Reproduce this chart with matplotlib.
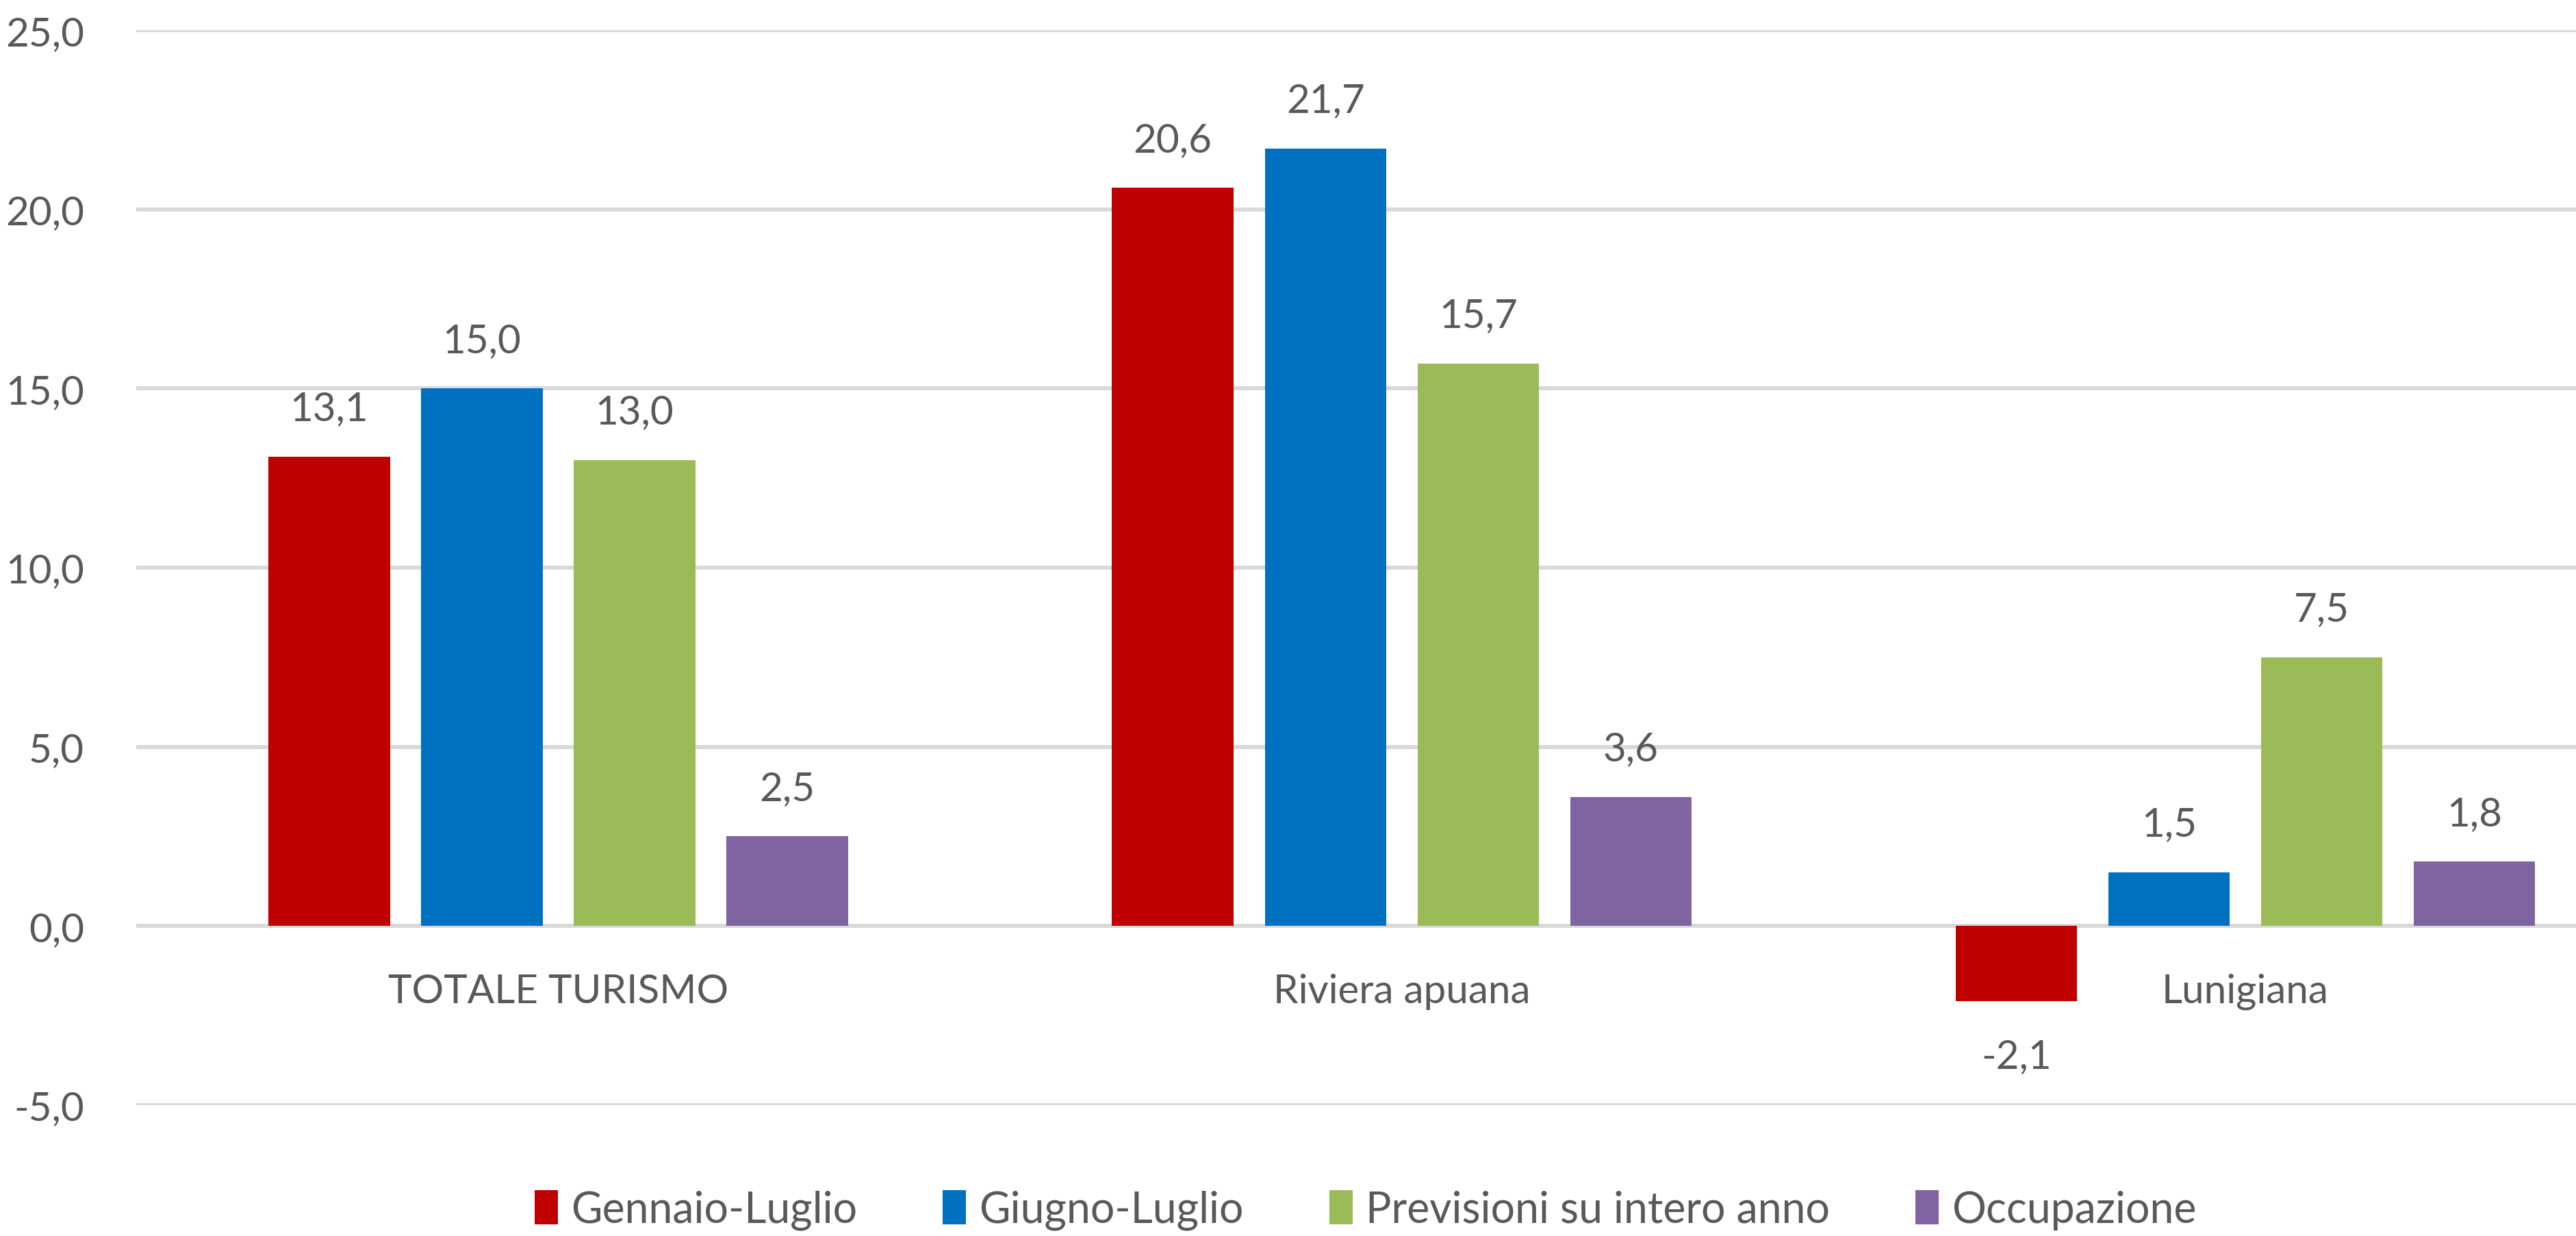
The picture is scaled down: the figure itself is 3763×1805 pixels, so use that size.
import matplotlib
matplotlib.use("Agg")
import matplotlib.pyplot as plt
import numpy as np

plt.rcParams['font.family'] = ['Lato', 'DejaVu Sans']

categories = ['TOTALE TURISMO', 'Riviera apuana', 'Lunigiana']
series_names = ['Gennaio-Luglio', 'Giugno-Luglio', 'Previsioni su intero anno', 'Occupazione']
gennaio_luglio = [13.1, 20.6, -2.1]
giugno_luglio = [15.0, 21.7, 1.5]
previsioni = [13.0, 15.7, 7.5]
occupazione = [2.5, 3.6, 1.8]
yticks = [-5, 0, 5, 10, 15, 20, 25]

series = [gennaio_luglio, giugno_luglio, previsioni, occupazione]
colors = ['#C00000', '#0070C0', '#9BBB59', '#8064A2']
text_col = '#595959'

fig = plt.figure(figsize=(37.63, 18.06), dpi=100)
ax = fig.add_axes([0.053, 0.1058, 0.947, 0.975 - 0.1058])

x = np.arange(len(categories))
width = 0.144
pitch = 0.181
for i, (vals, col, name) in enumerate(zip(series, colors, series_names)):
    pos = x + (i - 1.5) * pitch
    bars = ax.bar(pos, vals, width, color=col, label=name, zorder=3)
    for b, v in zip(bars, vals):
        lab = f"{v:.1f}".replace('.', ',')
        off = 70 if v >= 0 else -80
        ax.annotate(lab, (b.get_x() + b.get_width() / 2, v), xytext=(0, off),
                    textcoords='offset pixels', ha='center', va='center',
                    fontsize=42, color=text_col)

for xi, c in zip(x, categories):
    ax.annotate(c, (xi, 0), xytext=(0, -95), textcoords='offset pixels',
                ha='center', va='center', fontsize=42, color=text_col)

ax.set_xlim(-0.5, 2.392)
ax.set_ylim(-5, 25)
ax.set_yticks(yticks)
ax.set_yticklabels([f"{t:.1f}".replace('.', ',') for t in yticks], fontsize=42, color=text_col)
ax.tick_params(axis='y', length=0, pad=55)
ax.set_xticks([])
ax.grid(axis='y', color='#D9D9D9', linewidth=4.3, zorder=0)
for s in ax.spines.values():
    s.set_visible(False)

fig.legend(loc='center', bbox_to_anchor=(0.530, 0.021), ncol=4, frameon=False,
           fontsize=45, labelcolor=text_col, handlelength=0.55, handleheight=0.85,
           handletextpad=0.3, columnspacing=2.0)

fig.savefig('out.png', dpi=100)
